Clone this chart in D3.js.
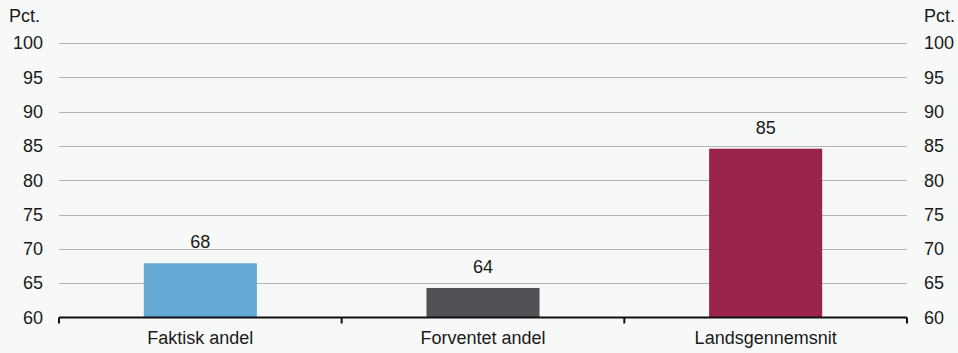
<!DOCTYPE html>
<html><head><meta charset="utf-8">
<script src="https://cdn.jsdelivr.net/npm/d3@7"></script>
<style>
html,body{margin:0;padding:0;background:#f7f8f8;}
text{font-family:Arial,"Liberation Sans",Helvetica,sans-serif;fill:#1a1a1a;}
</style></head><body>
<svg id="c" width="958" height="353"></svg>
<script>
const categories = ["Faktisk andel", "Forventet andel", "Landsgennemsnit"];
const values = [67.9, 64.3, 84.6];
const barColors = ["#63a9d4", "#515257", "#99234a"];
const yTicks = [60, 65, 70, 75, 80, 85, 90, 95, 100];
const unitLabel = "Pct.";

(function () {
const svg = d3.select("#c");
const mLeft = 59, mRight = 907, mTop = 43, mBottom = 317.5;
const fs = 18;

const x = d3.scaleBand().domain(categories).range([mLeft, mRight]).padding(0);
const y = d3.scaleLinear().domain([60, 100]).range([mBottom, mTop]);

// gridlines
svg.append("g").selectAll("line").data(yTicks.filter(d => d > 60)).join("line")
  .attr("x1", mLeft).attr("x2", mRight)
  .attr("y1", d => Math.round(y(d)) + 0.5).attr("y2", d => Math.round(y(d)) + 0.5)
  .attr("stroke", "#b4b4b4").attr("stroke-width", 1);

// bars
const bw = x.bandwidth() * 0.4;
svg.append("g").selectAll("rect").data(categories).join("rect")
  .attr("x", d => x(d) + (x.bandwidth() - bw) / 2)
  .attr("width", bw)
  .attr("y", (d, i) => y(values[i]))
  .attr("height", (d, i) => y(60) - y(values[i]))
  .attr("fill", (d, i) => barColors[i]);

// value labels
svg.append("g").selectAll("text").data(categories).join("text")
  .attr("x", d => x(d) + x.bandwidth() / 2)
  .attr("y", (d, i) => y(values[i]) - 15)
  .attr("text-anchor", "middle")
  .attr("font-size", fs)
  .text((d, i) => d3.format(".0f")(values[i]));

// x axis
const xAxis = d3.axisBottom(x).tickSize(0).tickPadding(14);
const gx = svg.append("g").attr("transform", `translate(0,${mBottom})`).call(xAxis);
gx.select(".domain").remove();
gx.selectAll("text").attr("font-size", fs).attr("font-family", "Arial,'Liberation Sans',sans-serif").attr("fill", "#1a1a1a");
svg.append("line").attr("x1", mLeft).attr("x2", mRight).attr("y1", mBottom).attr("y2", mBottom)
  .attr("stroke", "#111").attr("stroke-width", 2);
const bounds = [mLeft, ...categories.map(c => x(c) + x.bandwidth())];
svg.append("g").selectAll("line").data(bounds).join("line")
  .attr("x1", d => d).attr("x2", d => d)
  .attr("y1", mBottom).attr("y2", mBottom + 6)
  .attr("stroke", "#111").attr("stroke-width", 2);

// y axes
const yl = d3.axisLeft(y).tickValues(yTicks).tickSize(0).tickPadding(16);
const gyl = svg.append("g").attr("transform", `translate(${mLeft},0)`).call(yl);
gyl.select(".domain").remove();
gyl.selectAll("text").attr("font-size", fs).attr("font-family", "Arial,'Liberation Sans',sans-serif").attr("fill", "#1a1a1a");

const yr = d3.axisRight(y).tickValues(yTicks).tickSize(0).tickPadding(17);
const gyr = svg.append("g").attr("transform", `translate(${mRight},0)`).call(yr);
gyr.select(".domain").remove();
gyr.selectAll("text").attr("font-size", fs).attr("font-family", "Arial,'Liberation Sans',sans-serif").attr("fill", "#1a1a1a");

// unit labels
svg.append("text").attr("x", 9).attr("y", 22).attr("font-size", fs).text(unitLabel);
svg.append("text").attr("x", 924).attr("y", 22).attr("font-size", fs).text(unitLabel);
})();
</script>
</body></html>
